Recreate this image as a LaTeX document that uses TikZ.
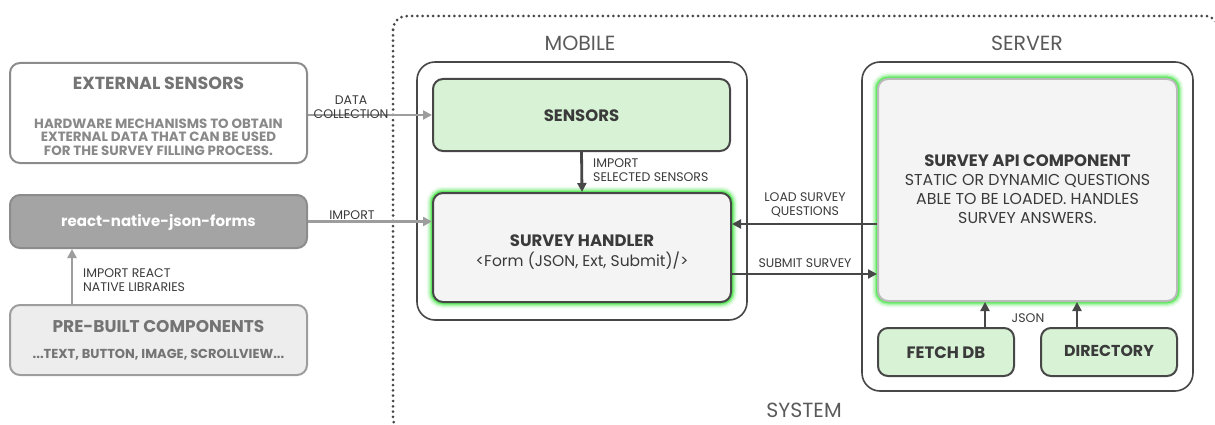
\documentclass[tikz,border=0pt]{standalone}
\usepackage{fontspec}
\setmainfont{Poppins}
\usetikzlibrary{arrows.meta}
\definecolor{lgray}{HTML}{8C8C8C}
\definecolor{ltext}{HTML}{747474}
\definecolor{dgray}{HTML}{474747}
\definecolor{dtext}{HTML}{3A3A3A}
\definecolor{mint}{HTML}{D8F2D5}
\definecolor{paper}{HTML}{F4F4F4}
\definecolor{glow}{HTML}{4FE84F}
\definecolor{libfill}{HTML}{A4A4A4}
\definecolor{prefill}{HTML}{EDEDED}
\begin{document}
\begin{tikzpicture}[x=1pt,y=-1pt,
  card/.style={rounded corners=10pt, line width=2pt, inner sep=0pt},
  frame/.style={rounded corners=18pt, line width=1.6pt, draw=dgray, fill=white, inner sep=0pt},
  greycard/.style={card, draw=lgray},
  greencard/.style={card, draw=dgray, fill=mint},
  lightcard/.style={card, draw=dgray, fill=paper},
  halo/.style={rounded corners=10pt, draw=glow},
  garrow/.style={draw=lgray!85, line width=2.4pt, -{Triangle[length=9pt,width=9pt]}},
  darrow/.style={draw=dgray, line width=2.8pt, -{Triangle[length=9pt,width=9pt]}},
  small/.style={font=\fontsize{12.5}{13.5}\selectfont, text=dtext, inner sep=0pt},
  head/.style={font=\fontsize{20.5}{24}\selectfont, text=dgray!90, inner sep=0pt},
  title/.style={font=\fontsize{16.5}{19}\selectfont\bfseries, inner sep=0pt},
  body/.style={font=\fontsize{15.5}{19}\selectfont, inner sep=0pt, align=center}
]
\useasboundingbox (0,0) rectangle (1215,425);

% system boundary (dotted, runs past the page edges)
\begin{scope}
\clip (0,0) rectangle (1215,425);
\draw[dgray, line width=3pt, dash pattern=on 0pt off 5.3pt, line cap=round, rounded corners=14pt]
  (393,16) rectangle (1219,432);
\end{scope}

% outer frames
\node[frame, minimum width=330pt, minimum height=258pt] (mobile) at (582,191) {};
\node[frame, minimum width=331pt, minimum height=329pt] (server) at (1027.5,226.5) {};
\node[head] (mobilelbl) at (580,43) {MOBILE};
\node[head] (serverlbl) at (1027,43) {SERVER};
\node[head] (systemlbl) at (804,410) {SYSTEM};

% left column
\node[greycard, fill=white, minimum width=297pt, minimum height=100pt] (ext) at (158.5,113) {};
\node[title, text=ltext, font=\fontsize{17.5}{20}\selectfont\bfseries] (exttitle) at (158.5,83) {EXTERNAL SENSORS};
\node[body, text=ltext!85, font=\fontsize{13.4}{13.4}\selectfont\bfseries] (extdesc) at (158.5,137)
  {HARDWARE MECHANISMS TO OBTAIN\\EXTERNAL DATA THAT CAN BE USED\\FOR THE SURVEY FILLING PROCESS.};

\node[greycard, fill=libfill, minimum width=297pt, minimum height=53pt] (react) at (158.5,221.5) {};
\node[title, text=white, font=\fontsize{15}{17}\selectfont\bfseries] (reactlbl) at (158.5,222) {react-native-json-forms};

\node[greycard, draw=lgray!85, fill=prefill, minimum width=297pt, minimum height=70pt] (pre) at (158.5,340) {};
\node[title, text=ltext, font=\fontsize{17}{19}\selectfont\bfseries] (pretitle) at (158.5,327) {PRE-BUILT COMPONENTS};
\node[body, text=ltext, font=\fontsize{13}{15}\selectfont\bfseries] (predesc) at (158.5,355) {...TEXT, BUTTON, IMAGE, SCROLLVIEW...};

% mobile
\node[greencard, minimum width=297pt, minimum height=72pt] (sensors) at (581.5,115) {};
\node[title, text=dtext] (sensorslbl) at (581.5,116) {SENSORS};

\foreach \w/\o in {13/0.1,10/0.2,7/0.4,4.5/0.8}
  \draw[halo, line width=\w pt, draw opacity=\o] (433,193) rectangle (731,302);
\node[lightcard, minimum width=298pt, minimum height=109pt] (handler) at (582,247.5) {};
\node[title, text=dtext] (handlertitle) at (582,241) {SURVEY HANDLER};
\node[body, text=dtext] (handlerdesc) at (582,261) {<Form (JSON, Ext, Submit)/>};

% server
\foreach \w/\o in {13/0.1,10/0.2,7/0.4,4.5/0.8}
  \draw[halo, line width=\w pt, draw opacity=\o] (878,79) rectangle (1177,301);
\node[card, draw=lgray!60, fill=paper, minimum width=299pt, minimum height=222pt] (api) at (1027.5,190) {};
\node[title, text=dtext] (apititle) at (1027.5,161) {SURVEY API COMPONENT};
\node[body, text=dtext, font=\fontsize{15.8}{19}\selectfont] (apidesc) at (1027.5,199)
  {STATIC OR DYNAMIC QUESTIONS\\ABLE TO BE LOADED. HANDLES\\SURVEY ANSWERS.};

\node[greencard, minimum width=136pt, minimum height=48pt] (fetch) at (946,352) {};
\node[title, text=dtext] (fetchlbl) at (946,353) {FETCH DB};
\node[greencard, minimum width=136pt, minimum height=48pt] (dir) at (1109,352) {};
\node[title, text=dtext, font=\fontsize{15.8}{19}\selectfont\bfseries] (dirlbl) at (1109,351) {DIRECTORY};

% connectors
\draw[garrow] (sensors.west -| ext.east) -- (sensors.west);
\node[small, align=center] (dclbl) at (351,107) {DATA\\COLLECTION};

\draw[garrow] (react.east) -- (react.east -| handler.west);
\node[small] (implbl) at (352,215) {IMPORT};

\draw[garrow] ([xshift=-86.5pt]pre.north) -- ([xshift=-86.5pt]react.south);
\node[small, anchor=west, align=left] (rnlbl) at (83,280) {IMPORT REACT\\NATIVE LIBRARIES};

\draw[darrow] (sensors.south) -- (handler.north);
\node[small, anchor=west, align=left] (sellbl) at (593,170) {IMPORT\\SELECTED SENSORS};

\coordinate (loadA) at ([yshift=-34pt]api.west);
\draw[darrow] (loadA) -- (loadA -| handler.east);
\node[small, align=center] (loadlbl) at (805,205) {LOAD SURVEY\\QUESTIONS};

\coordinate (subA) at ([yshift=-26.5pt]handler.east);
\draw[darrow] (subA) -- (subA -| api.west);
\node[small] (sublbl) at (805,263) {SUBMIT SURVEY};

\draw[darrow] ([xshift=39pt]fetch.north) -- ([xshift=39pt]fetch.north |- api.south);
\draw[darrow] ([xshift=-32pt]dir.north) -- ([xshift=-32pt]dir.north |- api.south);
\node[small] (jsonlbl) at (1028,318) {JSON};
\end{tikzpicture}
\end{document}
